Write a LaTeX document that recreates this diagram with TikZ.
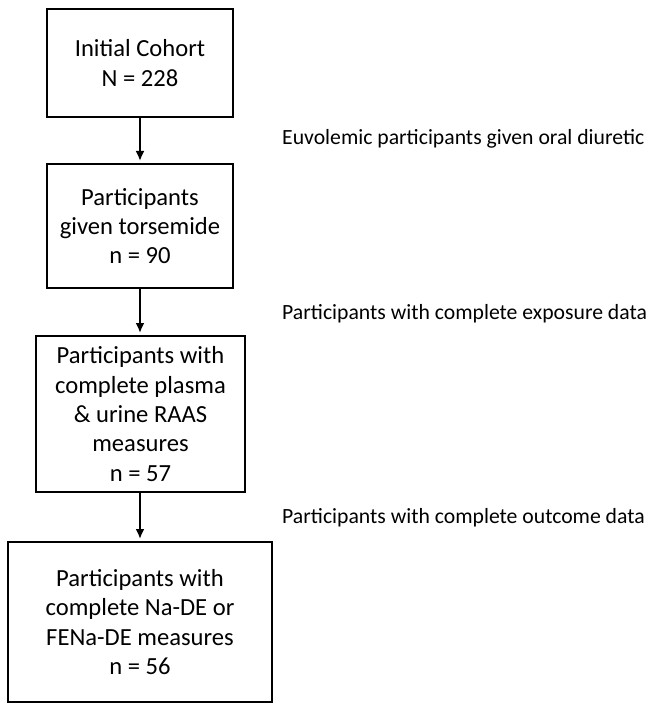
\documentclass[tikz,border=0pt]{standalone}
\usepackage{fontspec}
\setmainfont{Carlito}
\usetikzlibrary{arrows.meta}
\tikzset{
  flowbox/.style={draw, line width=2pt, align=center, inner sep=0pt,
    font=\fontsize{24.6}{29.4}\selectfont},
  sidenote/.style={anchor=west, inner sep=0pt, font=\fontsize{21.7}{26}\selectfont},
  flowarrow/.style={-{Latex[length=10pt,width=9pt]}, line width=2pt, shorten >=2pt}
}
\begin{document}
\begin{tikzpicture}[x=1pt,y=-1pt]
        \useasboundingbox (0,0) rectangle (648,703);
        % Cajas del diagrama
        \node[flowbox, minimum width=186pt, minimum height=108pt] (cohort) at (140,63) {Initial Cohort\\N = 228};
        \node[flowbox, minimum width=186pt, minimum height=124pt] (torsemide) at (140,226) {Participants\\given torsemide\\n = 90};
        \node[flowbox, minimum width=209pt, minimum height=156pt] (raas) at (140.5,414) {Participants with\\complete plasma\\\& urine RAAS\\measures\\n = 57};
        \node[flowbox, minimum width=264pt, minimum height=160pt] (nade) at (140,622) {Participants with\\complete Na-DE or\\FENa-DE measures\\n = 56};
        % Textos laterales
        \node[sidenote] (euvolemic) at (282,139) {Euvolemic participants given oral diuretic};
        \node[sidenote] (exposure) at (282,314) {Participants with complete exposure data};
        \node[sidenote] (outcome) at (282,518) {Participants with complete outcome data};
        % Flechas
        \draw[flowarrow] (cohort) -- (torsemide);
        \draw[flowarrow] (torsemide.south) -- (torsemide.south |- raas.north);
        \draw[flowarrow] (raas.south -| torsemide.south) -- (nade);
    \end{tikzpicture}
\end{document}
